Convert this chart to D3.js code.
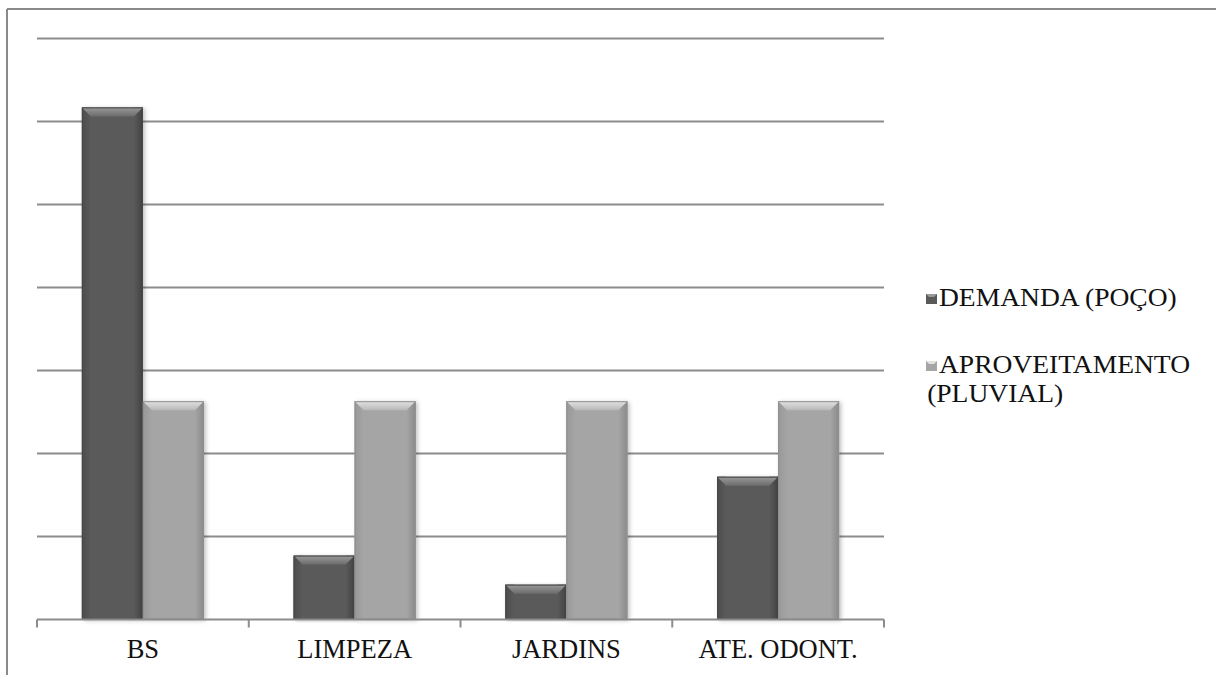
<!DOCTYPE html>
<html>
<head>
<meta charset="utf-8">
<script src="https://cdn.jsdelivr.net/npm/d3@7"></script>
<style>
  html, body { margin: 0; padding: 0; background: #fff; }
  svg { display: block; }
</style>
</head>
<body>
<svg id="chart" width="1216" height="675"></svg>
<script>
// Water use by category: demand (well) vs. rainwater harvesting
const categories = ["BS", "LIMPEZA", "JARDINS", "ATE. ODONT."];
const demanda = [61.7, 7.7, 4.2, 17.2];
const aproveitamento = [26.3, 26.3, 26.3, 26.3];
const seriesKeys = ["demanda", "aproveitamento"];
const legendLines = [["DEMANDA (POÇO)"], ["APROVEITAMENTO", "(PLUVIAL)"]];
const yTicks = [0, 10, 20, 30, 40, 50, 60, 70];

const FONT = "Liberation Serif";
const rows = categories.map((c, i) => ({ cat: c, demanda: demanda[i], aproveitamento: aproveitamento[i] }));

const svg = d3.select("#chart");
const W = 1216, H = 675;
const plot = { left: 37, right: 884, top: 38.5, bottom: 619.5 };

// Outer chart frame (top and left edges)
svg.append("line").attr("x1", 7).attr("y1", 9).attr("x2", W).attr("y2", 9)
  .attr("stroke", "#8a8a8a").attr("stroke-width", 2);
svg.append("line").attr("x1", 7).attr("y1", 9).attr("x2", 7).attr("y2", H)
  .attr("stroke", "#8a8a8a").attr("stroke-width", 2);

const y = d3.scaleLinear().domain([0, 70]).range([plot.bottom, plot.top]);
const x0 = d3.scaleBand().domain(categories).range([plot.left, plot.right]).paddingInner(0).paddingOuter(0);
const groupW = 122;
const x1 = d3.scaleBand().domain(seriesKeys).range([0, groupW]).padding(0);

// Gradients and shadow
const defs = svg.append("defs");
const palettes = {
  demanda: { base: "#5a5a5a", topA: "#9a9a9a", topB: "#6c6c6c", edgeL: "#4c4c4c", edgeR: "#424242", line: "#474747" },
  aproveitamento: { base: "#a5a5a5", topA: "#e2e2e2", topB: "#b8b8b8", edgeL: "#989898", edgeR: "#8a8a8a", line: "#8f8f8f" }
};
Object.entries(palettes).forEach(([k, p]) => {
  const gt = defs.append("linearGradient").attr("id", "top-" + k).attr("x1", 0).attr("y1", 0).attr("x2", 0).attr("y2", 1);
  gt.append("stop").attr("offset", "0%").attr("stop-color", p.topA);
  gt.append("stop").attr("offset", "100%").attr("stop-color", p.topB);
  const gl = defs.append("linearGradient").attr("id", "left-" + k).attr("x1", 0).attr("y1", 0).attr("x2", 1).attr("y2", 0);
  gl.append("stop").attr("offset", "0%").attr("stop-color", p.edgeL);
  gl.append("stop").attr("offset", "100%").attr("stop-color", p.base);
  const gr = defs.append("linearGradient").attr("id", "right-" + k).attr("x1", 0).attr("y1", 0).attr("x2", 1).attr("y2", 0);
  gr.append("stop").attr("offset", "0%").attr("stop-color", p.base);
  gr.append("stop").attr("offset", "100%").attr("stop-color", p.edgeR);
});
const shadow = defs.append("filter").attr("id", "shadow").attr("x", "-20%").attr("y", "-5%").attr("width", "140%").attr("height", "110%");
shadow.append("feDropShadow").attr("dx", 2).attr("dy", 1).attr("stdDeviation", 2).attr("flood-color", "#000").attr("flood-opacity", 0.25);

// Gridlines
svg.append("g").selectAll("line").data(yTicks.filter(t => t > 0)).join("line")
  .attr("x1", plot.left).attr("x2", plot.right)
  .attr("y1", d => y(d)).attr("y2", d => y(d))
  .attr("stroke", "#8c8c8c").attr("stroke-width", 2);

// Bars with a bevelled look
const bevel = 9;
const groups = svg.append("g").selectAll("g").data(rows).join("g")
  .attr("transform", d => `translate(${x0(d.cat) + (x0.bandwidth() - groupW) / 2},0)`);

groups.each(function (d) {
  const g = d3.select(this);
  seriesKeys.forEach(k => {
    const bx = x1(k), bw = x1.bandwidth();
    const top = y(d[k]), bot = y(0), h = bot - top;
    const p = palettes[k];
    const b = g.append("g");
    b.append("rect").attr("x", bx).attr("y", top).attr("width", bw).attr("height", h)
      .attr("fill", p.base).attr("filter", "url(#shadow)");
    const bv = Math.min(bevel, h / 2);
    b.append("rect").attr("x", bx).attr("y", top).attr("width", bv).attr("height", h).attr("fill", `url(#left-${k})`);
    b.append("rect").attr("x", bx + bw - bv).attr("y", top).attr("width", bv).attr("height", h).attr("fill", `url(#right-${k})`);
    b.append("path")
      .attr("d", `M${bx},${top} L${bx + bw},${top} L${bx + bw - bv},${top + bv} L${bx + bv},${top + bv} Z`)
      .attr("fill", `url(#top-${k})`);
    b.append("rect").attr("x", bx + 0.5).attr("y", top + 0.5).attr("width", bw - 1).attr("height", h - 1)
      .attr("fill", "none").attr("stroke", p.line).attr("stroke-width", 1);
  });
});

// Category axis
const xAxisG = svg.append("g");
xAxisG.append("line").attr("x1", plot.left).attr("x2", plot.right).attr("y1", plot.bottom).attr("y2", plot.bottom)
  .attr("stroke", "#8c8c8c").attr("stroke-width", 2);
const tickXs = categories.map(c => x0(c)).concat([x0(categories[categories.length - 1]) + x0.bandwidth()]);
xAxisG.selectAll("line.tick").data(tickXs).join("line").attr("class", "tick")
  .attr("x1", d => d).attr("x2", d => d).attr("y1", plot.bottom).attr("y2", plot.bottom + 8)
  .attr("stroke", "#8c8c8c").attr("stroke-width", 2);
xAxisG.selectAll("text").data(categories).join("text")
  .attr("x", d => x0(d) + x0.bandwidth() / 2).attr("y", 658)
  .attr("text-anchor", "middle").attr("font-size", 26.5)
  .attr("font-family", FONT).attr("fill", "#111").text(d => d);

// Legend
const legendY = [306, 373];
const legend = svg.append("g");
seriesKeys.forEach((k, i) => {
  const p = palettes[k];
  const ly = legendY[i];
  const m = legend.append("g");
  m.append("rect").attr("x", 926).attr("y", ly - 12).attr("width", 11).attr("height", 10).attr("fill", p.base);
  m.append("path").attr("d", `M926,${ly - 12} L937,${ly - 12} L934,${ly - 9} L929,${ly - 9} Z`).attr("fill", p.topA);
  const t = legend.append("text")
    .attr("transform", `translate(939,${ly}) scale(1.08,1)`)
    .attr("font-size", 25.5).attr("font-family", FONT).attr("fill", "#111");
  legendLines[i].forEach((line, j) => {
    t.append("tspan").attr("x", j === 0 ? 0 : -11).attr("dy", j === 0 ? 0 : 29).text(line);
  });
});
</script>
</body>
</html>
